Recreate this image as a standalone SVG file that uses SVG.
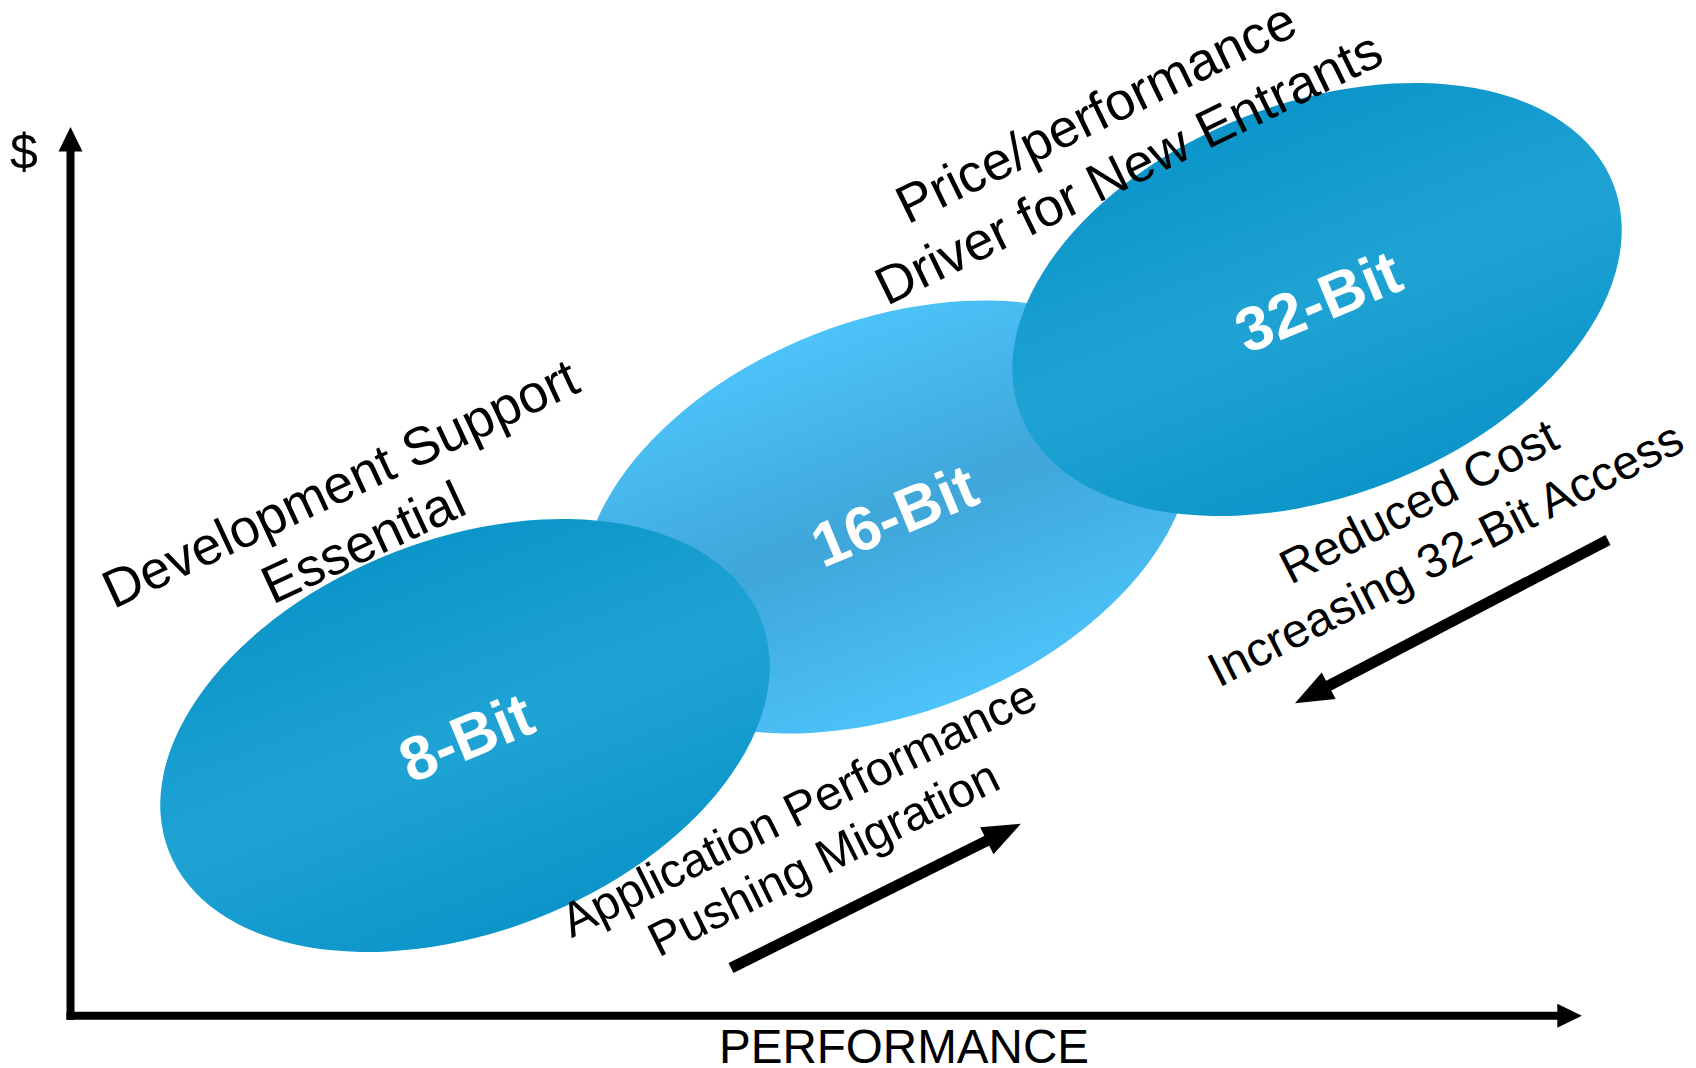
<svg xmlns="http://www.w3.org/2000/svg" width="1696" height="1068" viewBox="0 0 1696 1068">
  <style>
    .lbl { font-family: "Liberation Sans", Arial, sans-serif; fill: #000000; text-anchor: middle; }
    .bit { font-family: "Liberation Sans", Arial, sans-serif; font-weight: bold; font-size: 62px; fill: #ffffff; text-anchor: middle; }
    .axis { stroke: #000000; stroke-width: 8; fill: none; }
    .flow { stroke: #000000; stroke-width: 11; fill: none; }
  </style>
  <defs>
    <linearGradient id="gDark" x1="0" y1="0" x2="0" y2="1">
      <stop offset="0" stop-color="#0C95C9"/>
      <stop offset="0.5" stop-color="#1FA3D4"/>
      <stop offset="1" stop-color="#0C95C9"/>
    </linearGradient>
    <linearGradient id="gLight" x1="0" y1="0" x2="0" y2="1">
      <stop offset="0" stop-color="#4CC3F9"/>
      <stop offset="0.5" stop-color="#3FA6D9"/>
      <stop offset="1" stop-color="#4CC3F9"/>
    </linearGradient>
    <marker id="axisHead" markerUnits="userSpaceOnUse" markerWidth="30" markerHeight="30" refX="0" refY="0" orient="auto" overflow="visible">
      <path d="M-1,-12 L23.5,0 L-1,12 Z" fill="#000000"/>
    </marker>
    <marker id="flowHead" markerUnits="userSpaceOnUse" markerWidth="40" markerHeight="40" refX="0" refY="0" orient="auto" overflow="visible">
      <path d="M-2,-15 L36,0 L-2,15 Z" fill="#000000"/>
    </marker>
  </defs>

  <rect x="0" y="0" width="1696" height="1068" fill="#ffffff"/>

  <g id="node-16bit">
    <g transform="translate(887,517) rotate(-21.3)">
      <ellipse cx="0" cy="0" rx="318" ry="196.5" fill="url(#gLight)"/>
    </g>
    <g transform="translate(894,515) rotate(-22.5)">
      <text class="bit" x="0" y="22">16-Bit</text>
    </g>
  </g>

  <g id="node-8bit">
    <g transform="translate(465,735.5) rotate(-21.3)">
      <ellipse cx="0" cy="0" rx="318" ry="196.5" fill="url(#gDark)"/>
    </g>
    <g transform="translate(466,737) rotate(-22.5)">
      <text class="bit" x="0" y="22">8-Bit</text>
    </g>
  </g>

  <g id="node-32bit">
    <g transform="translate(1317,299.5) rotate(-21.3)">
      <ellipse cx="0" cy="0" rx="318" ry="196.5" fill="url(#gDark)"/>
    </g>
    <g transform="translate(1318,301) rotate(-22.5)">
      <text class="bit" x="0" y="22">32-Bit</text>
    </g>
  </g>

  <g id="annotations">
    <g transform="translate(348,500) rotate(-25)">
      <text class="lbl" font-size="53.5" x="0" y="0">Development Support</text>
      <text class="lbl" font-size="53.5" x="-4" y="63">Essential</text>
    </g>
    <g transform="translate(1104,129) rotate(-26)">
      <text class="lbl" font-size="53.5" x="0" y="0">Price/performance</text>
      <text class="lbl" font-size="53.5" x="5" y="64">Driver for New Entrants</text>
    </g>
    <g transform="translate(806,822.5) rotate(-26.3)">
      <text class="lbl" font-size="48" x="0" y="0">Application Performance</text>
      <text class="lbl" font-size="48" x="0" y="56">Pushing Migration</text>
    </g>
    <g transform="translate(1426,516) rotate(-27)">
      <text class="lbl" font-size="48" x="0" y="0">Reduced Cost</text>
      <text class="lbl" font-size="48" x="0" y="59">Increasing 32-Bit Access</text>
    </g>
    <text class="lbl" font-size="50" x="24" y="169">$</text>
    <text class="lbl" font-size="47.6" x="904" y="1063">PERFORMANCE</text>
  </g>

  <g id="connectors">
    <line class="axis" x1="70.5" y1="1019.8" x2="70.5" y2="150.5" marker-end="url(#axisHead)"/>
    <line class="axis" x1="66.5" y1="1015.8" x2="1558.3" y2="1015.8" marker-end="url(#axisHead)"/>
    <line class="flow" x1="731" y1="968" x2="988.6" y2="839.9" marker-end="url(#flowHead)"/>
    <line class="flow" x1="1608" y1="540" x2="1326.9" y2="686.7" marker-end="url(#flowHead)"/>
  </g>
</svg>
